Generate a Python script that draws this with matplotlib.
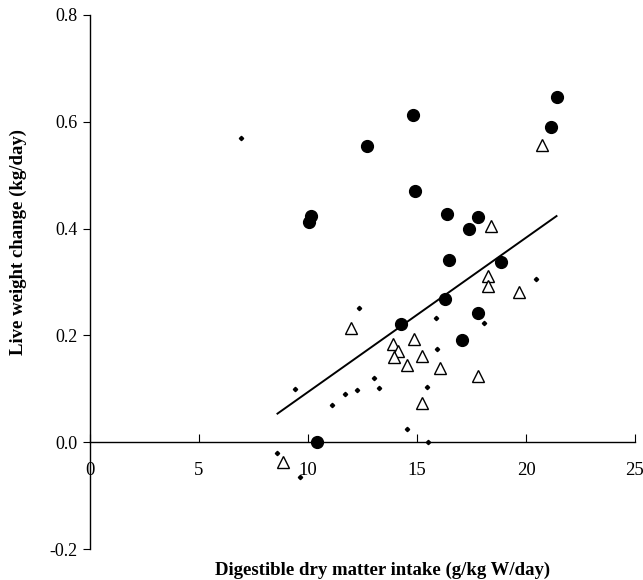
import matplotlib
matplotlib.use('Agg')
import matplotlib.pyplot as plt
import numpy as np

plt.rcParams['font.family'] = ['Liberation Serif', 'DejaVu Serif']

# filled circles
circle_x = [10.14, 10.05, 14.83, 12.69, 21.41, 21.13, 14.89, 16.39, 17.80, 17.39,
            16.48, 18.87, 16.28, 17.78, 14.25, 17.06, 10.40]
circle_y = [0.424, 0.412, 0.613, 0.554, 0.646, 0.590, 0.470, 0.428, 0.422, 0.400,
            0.341, 0.337, 0.269, 0.242, 0.221, 0.191, 0.001]

# open triangles
tri_x = [20.72, 18.38, 18.27, 18.27, 19.66, 11.96, 14.86, 13.91, 14.14, 13.93,
         15.24, 14.54, 16.07, 17.78, 15.24, 8.84]
tri_y = [0.557, 0.404, 0.312, 0.293, 0.282, 0.214, 0.194, 0.184, 0.170, 0.160,
         0.162, 0.145, 0.139, 0.124, 0.074, -0.037]

# small dots
dot_x = [6.94, 20.47, 12.35, 15.86, 18.07, 15.93, 13.03, 13.24, 15.44, 12.23,
         11.71, 11.10, 14.53, 15.52, 9.40, 8.56, 9.63]
dot_y = [0.569, 0.306, 0.251, 0.232, 0.224, 0.175, 0.120, 0.102, 0.104, 0.097,
         0.091, 0.069, 0.024, 0.001, 0.099, -0.020, -0.066]

# regression line
fit_x = [8.6, 21.4]
fit_slope = 0.0289
fit_intercept = -0.195

x_ticks = [0, 5, 10, 15, 20, 25]
y_ticks = [-0.2, 0.0, 0.2, 0.4, 0.6, 0.8]

W, H = 643, 580
fig = plt.figure(figsize=(W / 100, H / 100), dpi=100)
ax = fig.add_axes([90 / W, 1 - 549 / H, (635 - 90) / W, (549 - 15) / H])

ax.plot(circle_x, circle_y, 'o', color='black', markersize=8.5, zorder=3, clip_on=False)
ax.plot(tri_x, tri_y, '^', markerfacecolor='white', markeredgecolor='black',
        markersize=8, markeredgewidth=1.0, zorder=3, clip_on=False)
ax.plot(dot_x, dot_y, 'D', color='black', markersize=2.2, zorder=3, clip_on=False)
fx = np.array(fit_x)
ax.plot(fx, fit_intercept + fit_slope * fx, '-', color='black', linewidth=1.4, zorder=2)

ax.set_xlim(0, 25)
ax.set_ylim(-0.2, 0.8)
ax.spines['top'].set_visible(False)
ax.spines['right'].set_visible(False)
ax.spines['bottom'].set_position(('data', 0))
ax.spines['bottom'].set_linewidth(1.0)
ax.spines['left'].set_linewidth(1.0)

ax.set_xticks(x_ticks)
ax.set_xticklabels([str(t) for t in x_ticks])
ax.set_yticks(y_ticks)
ax.set_yticklabels(['%.1f' % t for t in y_ticks])
ax.tick_params(axis='x', direction='in', length=6, pad=14, labelsize=13.5)
ax.tick_params(axis='y', direction='out', length=5, pad=4, labelsize=13)

fig.text(383 / W, 1 - 570 / H, 'Digestible dry matter intake (g/kg W/day)',
         ha='center', va='center', fontsize=13.5, fontweight='bold')
fig.text(18 / W, 1 - 242 / H, 'Live weight change (kg/day)', rotation=90,
         ha='center', va='center', fontsize=13.5, fontweight='bold')

plt.savefig('out.png', dpi=100)
plt.close()
